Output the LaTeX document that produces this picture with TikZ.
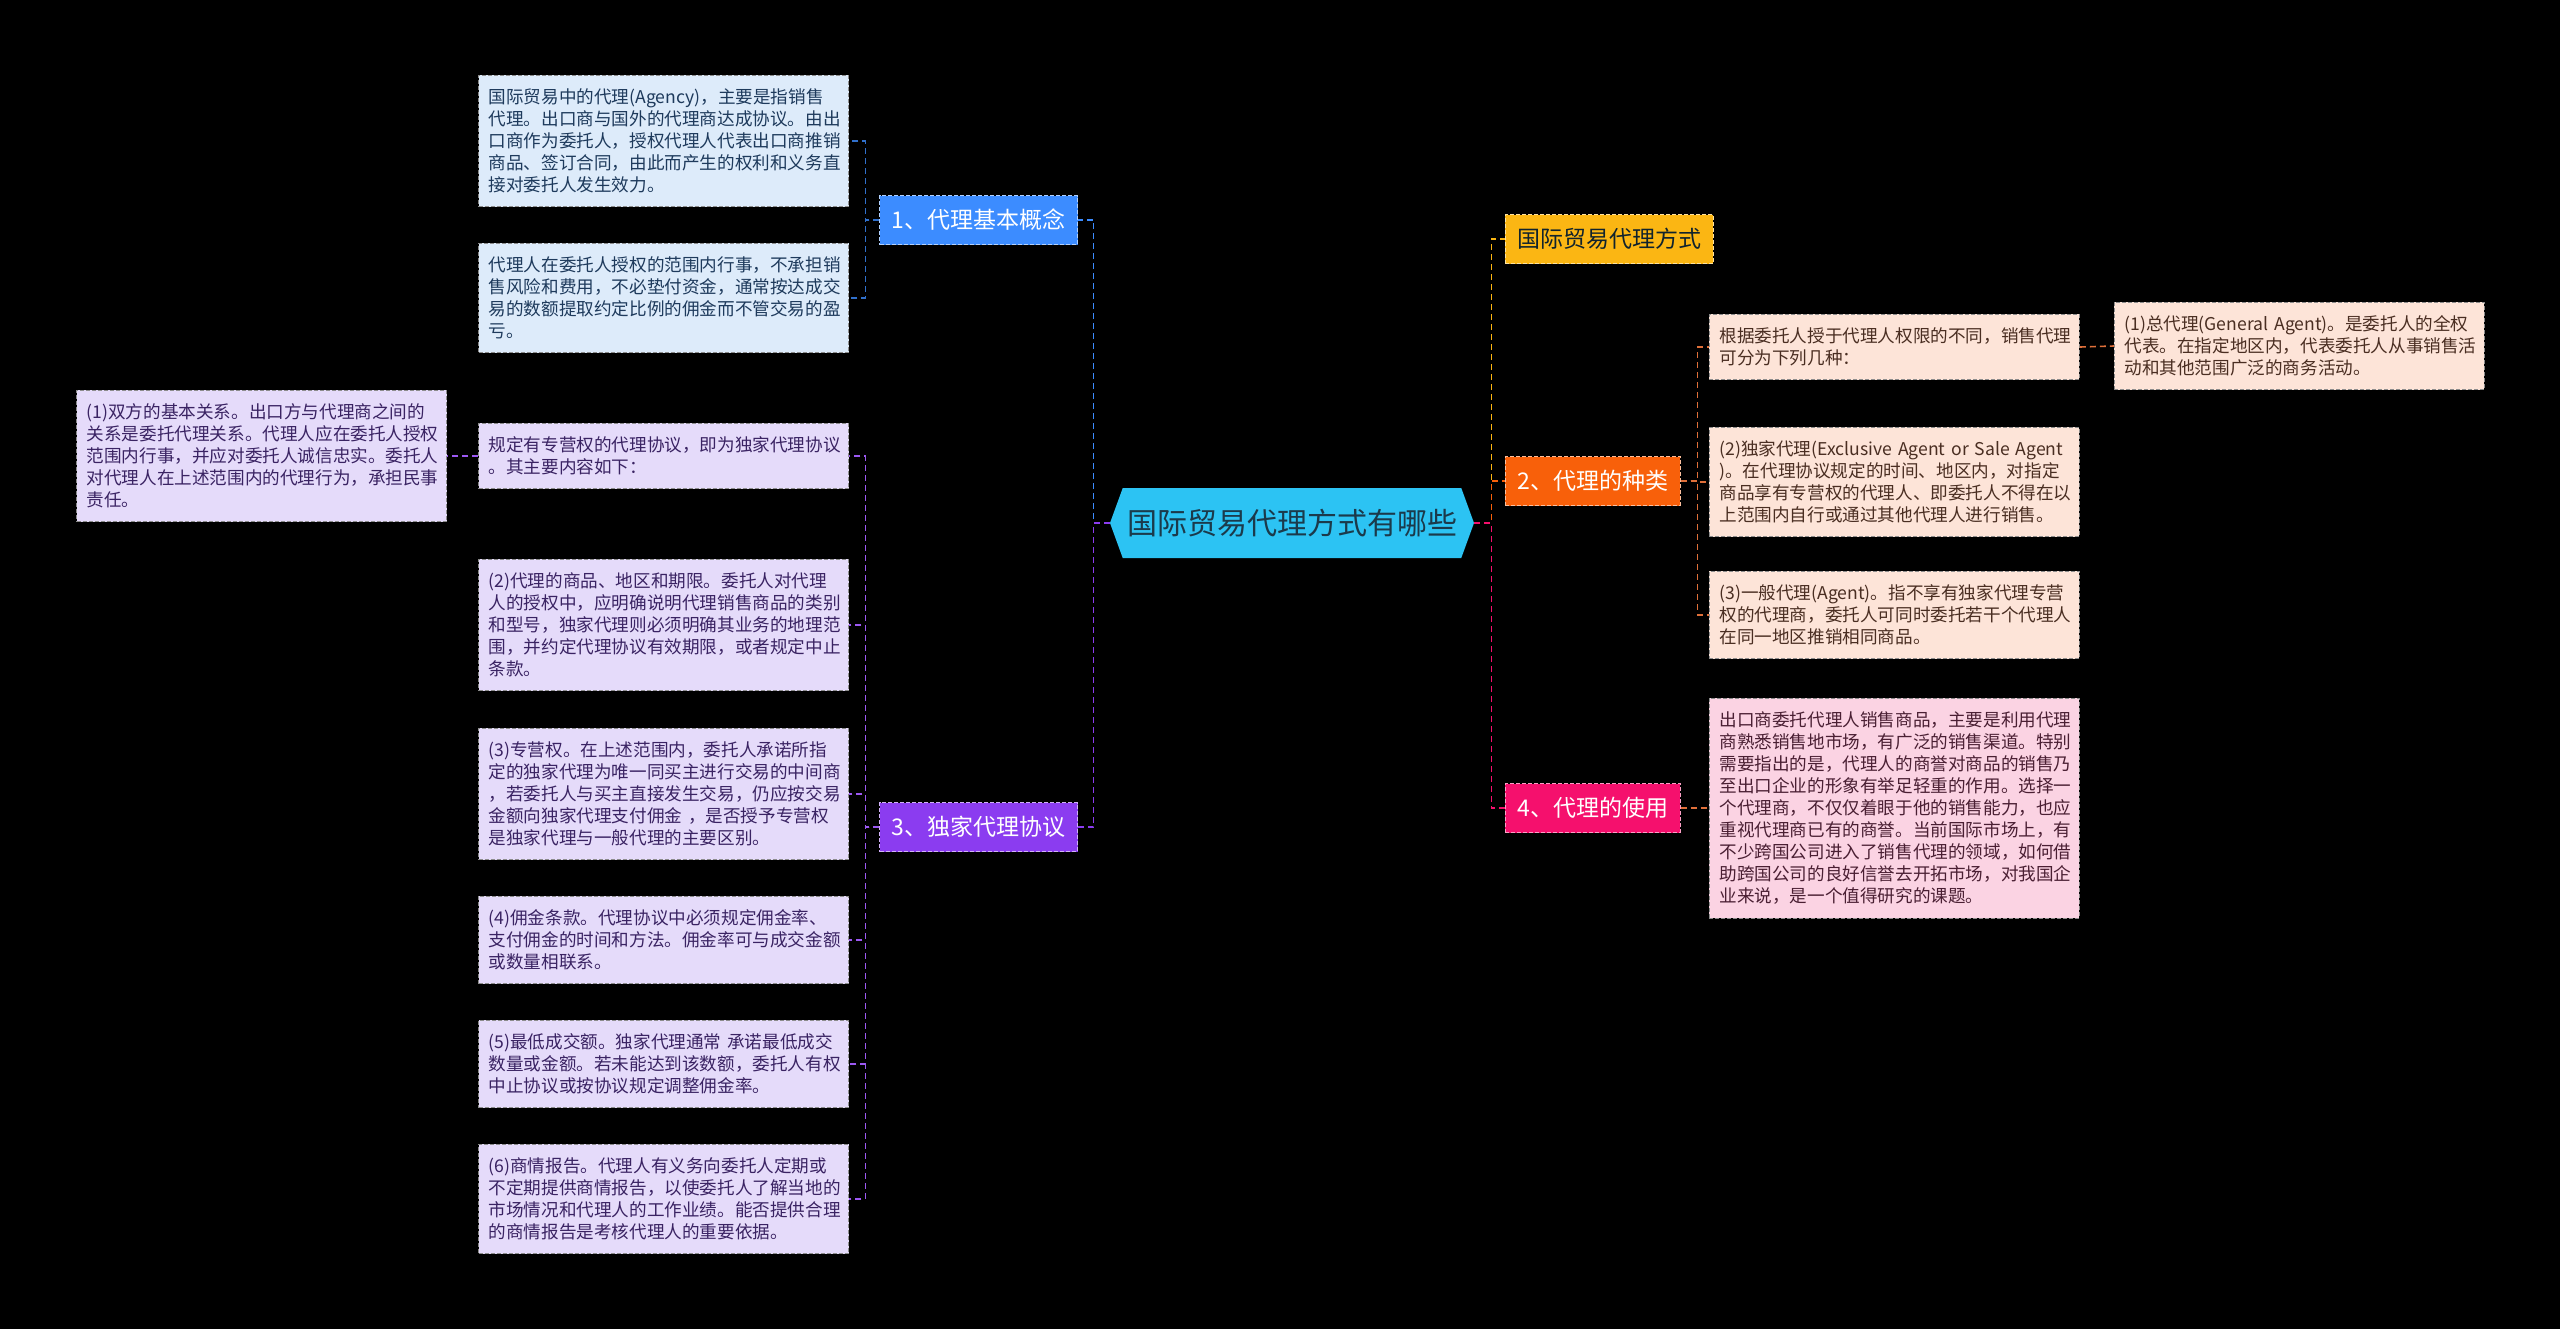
\documentclass[tikz,border=0pt]{standalone}
\usepackage{fontspec}
\setmainfont{Noto Sans CJK SC}
\usetikzlibrary{shapes.symbols}
\definecolor{rootfill}{HTML}{2CC3F3}
\definecolor{roottext}{HTML}{1B3A4B}
\definecolor{bluefill}{HTML}{3C8CFF}
\definecolor{purplefill}{HTML}{8B3CF0}
\definecolor{yellowfill}{HTML}{FBB613}
\definecolor{orangefill}{HTML}{F8600A}
\definecolor{pinkfill}{HTML}{F5106D}
\definecolor{blueleaf}{HTML}{DDEBFA}
\definecolor{purpleleaf}{HTML}{E5DBFA}
\definecolor{peachleaf}{HTML}{FDE4D8}
\definecolor{pinkleaf}{HTML}{FBD3E3}
\definecolor{bluetext}{HTML}{1E3A5C}
\definecolor{purpletext}{HTML}{3A2363}
\definecolor{peachtext}{HTML}{4A2E22}
\definecolor{pinktext}{HTML}{4A1F33}
\definecolor{peachline}{HTML}{E0703A}
\begin{document}
\begin{tikzpicture}[x=0.5pt,y=-0.5pt,
    leaf/.style={draw=black!45, dash pattern=on 2pt off 1pt, text width=175pt, align=left,
      inner xsep=5pt, inner ysep=6.8pt, font=\fontsize{8.8pt}{11pt}\selectfont},
    topic/.style={draw=white!60!#1, dash pattern=on 2pt off 1pt, fill=#1, text=white,
      inner xsep=6pt, minimum height=24.5pt, font=\fontsize{11.5pt}{13pt}\selectfont},
    link/.style={draw=#1, line width=0.8pt, dash pattern=on 3pt off 2pt}]
  \useasboundingbox[fill=black] (0,0) rectangle (2560,1329);

  % root
  \node[signal, signal to=west and east, signal pointer angle=140, fill=rootfill, text=roottext,
    minimum width=182pt, minimum height=35pt, inner xsep=2pt,
    font=\fontsize{15pt}{17pt}\selectfont] (root) at (1292,523) {国际贸易代理方式有哪些};

  % main topics
  \node[topic=bluefill, anchor=east] (kind1) at (1078,220) {1、代理基本概念};
  \node[topic=purplefill, anchor=east] (kind3) at (1078,827) {3、独家代理协议};
  \node[topic=yellowfill, text=roottext!60!black, anchor=west] (way) at (1505,239) {国际贸易代理方式};
  \node[topic=orangefill, anchor=west] (kind2) at (1505,481) {2、代理的种类};
  \node[topic=pinkfill, anchor=west] (kind4) at (1505,808) {4、代理的使用};

  % 1
  \node[leaf, fill=blueleaf, text=bluetext, anchor=east] (basic1) at (849,141)
    {国际贸易中的代理(Agency)，主要是指销售\\代理。出口商与国外的代理商达成协议。由出\\口商作为委托人，授权代理人代表出口商推销\\商品、签订合同，由此而产生的权利和义务直\\接对委托人发生效力。};
  \node[leaf, fill=blueleaf, text=bluetext, anchor=east] (basic2) at (849,298)
    {代理人在委托人授权的范围内行事，不承担销\\售风险和费用，不必垫付资金，通常按达成交\\易的数额提取约定比例的佣金而不管交易的盈\\亏。};

  % 3
  \node[leaf, fill=purpleleaf, text=purpletext, anchor=east] (deal0) at (849,456)
    {规定有专营权的代理协议，即为独家代理协议\\。其主要内容如下：};
  \node[leaf, fill=purpleleaf, text=purpletext, anchor=east] (deal1) at (447,456)
    {(1)双方的基本关系。出口方与代理商之间的\\关系是委托代理关系。代理人应在委托人授权\\范围内行事，并应对委托人诚信忠实。委托人\\对代理人在上述范围内的代理行为，承担民事\\责任。};
  \node[leaf, fill=purpleleaf, text=purpletext, anchor=east] (deal2) at (849,625)
    {(2)代理的商品、地区和期限。委托人对代理\\人的授权中，应明确说明代理销售商品的类别\\和型号，独家代理则必须明确其业务的地理范\\围，并约定代理协议有效期限，或者规定中止\\条款。};
  \node[leaf, fill=purpleleaf, text=purpletext, anchor=east] (deal3) at (849,794)
    {(3)专营权。在上述范围内，委托人承诺所指\\定的独家代理为唯一同买主进行交易的中间商\\，若委托人与买主直接发生交易，仍应按交易\\金额向独家代理支付佣金 ，是否授予专营权\\是独家代理与一般代理的主要区别。};
  \node[leaf, fill=purpleleaf, text=purpletext, anchor=east] (deal4) at (849,940)
    {(4)佣金条款。代理协议中必须规定佣金率、\\支付佣金的时间和方法。佣金率可与成交金额\\或数量相联系。};
  \node[leaf, fill=purpleleaf, text=purpletext, anchor=east] (deal5) at (849,1064)
    {(5)最低成交额。独家代理通常 承诺最低成交\\数量或金额。若未能达到该数额，委托人有权\\中止协议或按协议规定调整佣金率。};
  \node[leaf, fill=purpleleaf, text=purpletext, anchor=east] (deal6) at (849,1199)
    {(6)商情报告。代理人有义务向委托人定期或\\不定期提供商情报告，以使委托人了解当地的\\市场情况和代理人的工作业绩。能否提供合理\\的商情报告是考核代理人的重要依据。};

  % 2
  \node[leaf, fill=peachleaf, text=peachtext, anchor=west] (sort0) at (1709,347)
    {根据委托人授于代理人权限的不同，销售代理\\可分为下列几种：};
  \node[leaf, fill=peachleaf, text=peachtext, anchor=west] (sort1) at (2114,346)
    {(1)总代理(General Agent)。是委托人的全权\\代表。在指定地区内，代表委托人从事销售活\\动和其他范围广泛的商务活动。};
  \node[leaf, fill=peachleaf, text=peachtext, anchor=west] (sort2) at (1709,482)
    {(2)独家代理(Exclusive Agent or Sale Agent\\)。在代理协议规定的时间、地区内，对指定\\商品享有专营权的代理人、即委托人不得在以\\上范围内自行或通过其他代理人进行销售。};
  \node[leaf, fill=peachleaf, text=peachtext, anchor=west] (sort3) at (1709,615)
    {(3)一般代理(Agent)。指不享有独家代理专营\\权的代理商，委托人可同时委托若干个代理人\\在同一地区推销相同商品。};

  % 4
  \node[leaf, fill=pinkleaf, text=pinktext, anchor=west] (use0) at (1709,808)
    {出口商委托代理人销售商品，主要是利用代理\\商熟悉销售地市场，有广泛的销售渠道。特别\\需要指出的是，代理人的商誉对商品的销售乃\\至出口企业的形象有举足轻重的作用。选择一\\个代理商，不仅仅着眼于他的销售能力，也应\\重视代理商已有的商誉。当前国际市场上，有\\不少跨国公司进入了销售代理的领域，如何借\\助跨国公司的良好信誉去开拓市场，对我国企\\业来说，是一个值得研究的课题。};

  % connectors
  \draw[link=bluefill] (root.west) -- ++(-16,0) |- (kind1.east);
  \draw[link=purplefill] (root.west) -- ++(-16,0) |- (kind3.east);
  \draw[link=yellowfill] (root.east) -- ++(17,0) |- (way.west);
  \draw[link=orangefill] (root.east) -- ++(17,0) |- (kind2.west);
  \draw[link=pinkfill] (root.east) -- ++(17,0) |- (kind4.west);
  \foreach \n in {basic1,basic2}
    \draw[link=bluefill!80!black] (kind1.west) -- ++(-14,0) |- (\n.east);
  \foreach \n in {deal0,deal2,deal3,deal4,deal5,deal6}
    \draw[link=purplefill!85!white] (kind3.west) -- ++(-14,0) |- (\n.east);
  \draw[link=purplefill!85!white] (deal0.west) -- (deal1.east);
  \foreach \n in {sort0,sort2,sort3}
    \draw[link=peachline] (kind2.east) -- ++(17,0) |- (\n.west);
  \draw[link=peachline] (sort0.east) -- (sort1.west);
  \draw[link=peachline] (kind4.east) -- (use0.west);
\end{tikzpicture}
\end{document}
